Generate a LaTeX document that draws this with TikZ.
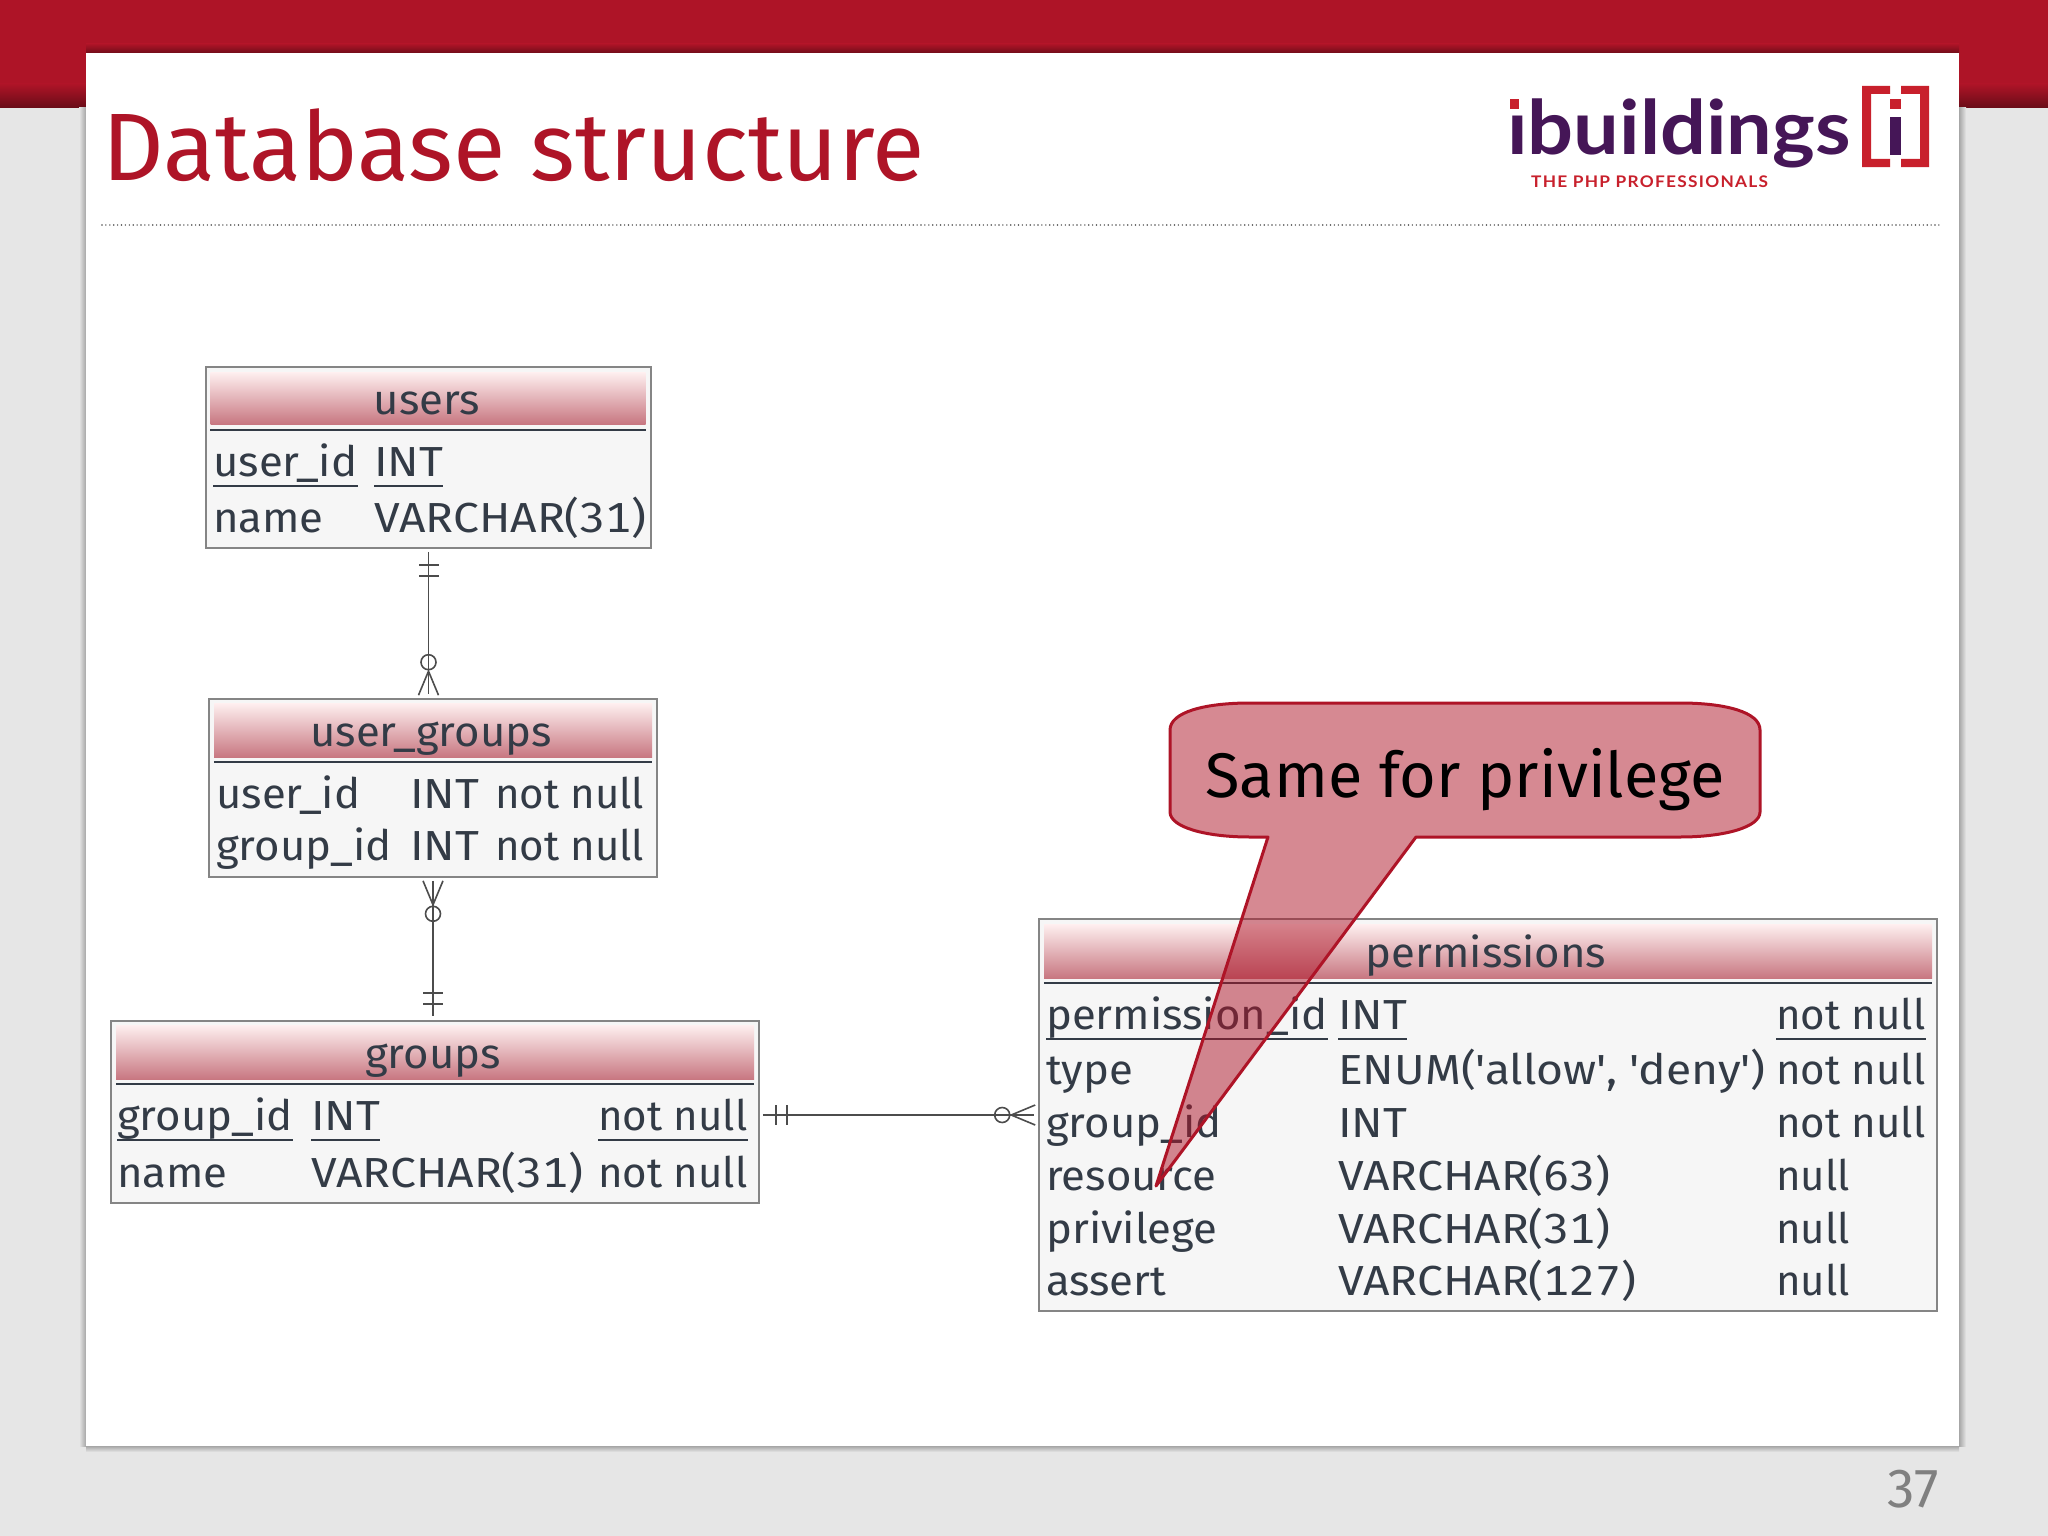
\documentclass[tikz,border=0pt]{standalone}
\usepackage{fontspec}
\setmainfont{Fira Sans}
\newfontfamily\logofont{Lato}[FakeStretch=1.08]
\newfontfamily\cellfont{Fira Sans}[FakeStretch=1.04]
\newfontfamily\typefont{Fira Sans}[FakeStretch=1.1,Numbers={Lining,Monospaced}]
\usetikzlibrary{positioning}
\definecolor{slidered}{HTML}{AE1427}
\definecolor{slidegrey}{HTML}{E6E6E6}
\definecolor{logopurple}{HTML}{451657}
\definecolor{logored}{HTML}{C8202C}
\definecolor{tabletext}{HTML}{333B46}
\definecolor{tableborder}{HTML}{858585}
\tikzset{
  tablebox/.style={draw=tableborder,line width=1.6pt,fill=black!3.5,inner sep=0pt},
  headbar/.style={top color=black!3!red!6!white,bottom color=slidered!55!white!95!black,draw=none,inner sep=0pt},
  headrule/.style={draw=tabletext,line width=1.6pt},
  cell/.style={anchor=base west,inner sep=0pt,text=tabletext,font=\cellfont\fontsize{42}{42}\selectfont},
  typecell/.style={cell,font=\typefont\fontsize{42}{42}\selectfont},
  nullcell/.style={cell,font=\fontsize{42}{42}\selectfont},
  keyline/.style={append after command={
    ([yshift=-10pt]\tikzlastnode.base west) edge[draw=tabletext,line width=1.4pt] ([yshift=-10pt]\tikzlastnode.base east)}},
  headtext/.style={anchor=base,inner sep=0pt,text=tabletext,font=\cellfont\fontsize{42}{42}\selectfont},
  relation/.style={draw=black!70,line width=1.6pt},
  onemark/.pic={
    \draw[relation] (16,-10) -- (16,10);
    \draw[relation] (27,-10) -- (27,10);
  },
  manymark/.pic={
    \draw[relation] (3,-10) -- (27,0) -- (3,10);
    \draw[relation] (36,0) circle (7.5pt);
  },
}
\begin{document}
\begin{tikzpicture}[x=1pt,y=-1pt]
  \useasboundingbox (0,0) rectangle (2048,1536);
  \fill[slidegrey] (0,0) rectangle (2048,1536);
  \fill[slidered] (0,0) rectangle (2048,84);
  \shade[top color=slidered,bottom color=slidered!60!black] (0,84) rectangle (2048,108);
  \shade[left color=black!35,right color=slidegrey] (1959,108) rectangle (1966,1446);
  \shade[right color=black!35,left color=slidegrey] (79,108) rectangle (86,1446);
  \shade[top color=black!35,bottom color=slidegrey] (86,1446) rectangle (1959,1452);
  \shade[top color=slidered,bottom color=slidered!65!black] (86,44) rectangle (1959,53);
  \fill[white] (86,53) rectangle (1959,1446);

  \node[anchor=base west,inner sep=0pt,text=slidered,font=\fontsize{95.8}{96}\selectfont] (title) at (102,180) {Database structure};
  \draw[black!70,line width=1.6pt,line cap=round,dash pattern=on 0pt off 3.9pt] (102,225) -- (1940,225);

  \node[anchor=base west,inner sep=0pt,text=logopurple,font=\logofont\bfseries\fontsize{75}{75}\selectfont] (logotext) at (1507,155) {ibuildings};
  \fill[white] (1506,92) rectangle (1524,113);
  \fill[logored] (1510,99) rectangle (1519,109);
  \node[anchor=base west,inner sep=0pt,text=logored,font=\logofont\bfseries\fontsize{16}{16}\selectfont] (logosub) at (1531,187) {\addfontfeature{LetterSpace=8}THE PHP PROFESSIONALS};
  \fill[logored] (1890,86) -- (1862,86) -- (1862,167) -- (1890,167) -- (1890,159) -- (1871,159) -- (1871,94) -- (1890,94) -- cycle;
  \fill[logored] (1901,86) -- (1929,86) -- (1929,167) -- (1901,167) -- (1901,159) -- (1920,159) -- (1920,94) -- (1901,94) -- cycle;
  \fill[logored] (1890,99) rectangle (1901,109);
  \fill[logopurple] (1890,117) rectangle (1901,155);

  \node[tablebox,minimum width=445pt,minimum height=181pt] (users) at (428.5,457.5) {};
  \node[headbar,minimum width=435pt,minimum height=52pt] (usershead) at (428,398) {};
  \draw[headrule] ([yshift=-6pt]usershead.south west) -- ([yshift=-6pt]usershead.south east);
  \node[headtext] (userstitle) at (427,414) {users};
  \node[cell,keyline] (usersid) at (213,476) {user\_id};
  \node[typecell,keyline] (usersidtype) at (374,476) {INT};
  \node[cell] (usersname) at (213,532) {name};
  \node[typecell] (usersnametype) at (374,532) {VARCHAR(31)};

  \node[tablebox,minimum width=448pt,minimum height=178pt] (ug) at (433,788) {};
  \node[headbar,minimum width=438pt,minimum height=54pt] (ughead) at (433,730) {};
  \draw[headrule] ([yshift=-5pt]ughead.south west) -- ([yshift=-5pt]ughead.south east);
  \node[headtext] (ugtitle) at (431,746) {user\_groups};
  \node[cell] (uguser) at (216,808) {user\_id};
  \node[typecell] (ugusertype) at (410,808) {INT};
  \node[nullcell] (ugusernull) at (495,808) {not null};
  \node[cell] (uggroup) at (216,860) {group\_id};
  \node[typecell] (uggrouptype) at (410,860) {INT};
  \node[nullcell] (uggroupnull) at (495,860) {not null};

  \node[tablebox,minimum width=648pt,minimum height=182pt] (groups) at (435,1112) {};
  \node[headbar,minimum width=638pt,minimum height=54pt] (groupshead) at (435,1052) {};
  \draw[headrule] ([yshift=-5pt]groupshead.south west) -- ([yshift=-5pt]groupshead.south east);
  \node[headtext] (groupstitle) at (433,1068) {groups};
  \node[cell,keyline] (groupsid) at (117,1130) {group\_id};
  \node[typecell,keyline] (groupsidtype) at (311,1130) {INT};
  \node[nullcell,keyline] (groupsidnull) at (598,1130) {not null};
  \node[cell] (groupsname) at (117,1187) {name};
  \node[typecell] (groupsnametype) at (311,1187) {VARCHAR(31)};
  \node[nullcell] (groupsnamenull) at (598,1187) {not null};

  \node[tablebox,minimum width=898pt,minimum height=392pt] (perm) at (1488,1115) {};
  \node[headbar,minimum width=888pt,minimum height=54pt] (permhead) at (1488,951) {};
  \draw[headrule] ([yshift=-5pt]permhead.south west) -- ([yshift=-5pt]permhead.south east);
  \node[headtext] (permtitle) at (1486,967) {permissions};
  \node[cell,keyline] (permid) at (1046,1029) {permission\_id};
  \node[typecell,keyline] (permidtype) at (1338,1029) {INT};
  \node[nullcell,keyline] (permidnull) at (1776,1029) {not null};
  \node[cell] (permtype) at (1046,1084) {type};
  \node[typecell] (permtypetype) at (1338,1084) {ENUM(\textquotesingle allow\textquotesingle, \textquotesingle deny\textquotesingle)};
  \node[nullcell] (permtypenull) at (1776,1084) {not null};
  \node[cell] (permgroup) at (1046,1137) {group\_id};
  \node[typecell] (permgrouptype) at (1338,1137) {INT};
  \node[nullcell] (permgroupnull) at (1776,1137) {not null};
  \node[cell] (permres) at (1046,1190) {resource};
  \node[typecell] (permrestype) at (1338,1190) {VARCHAR(63)};
  \node[nullcell] (permresnull) at (1776,1190) {null};
  \node[cell] (permpriv) at (1046,1243) {privilege};
  \node[typecell] (permprivtype) at (1338,1243) {VARCHAR(31)};
  \node[nullcell] (permprivnull) at (1776,1243) {null};
  \node[cell] (permassert) at (1046,1295) {assert};
  \node[typecell] (permasserttype) at (1338,1295) {VARCHAR(127)};
  \node[nullcell] (permassertnull) at (1776,1295) {null};

  \draw[relation,shorten <=3pt,shorten >=4pt] (users.south) -- (users.south |- ug.north);
  \path (users.south) pic[rotate=-90] {onemark};
  \path (users.south |- ug.north) pic[rotate=90] {manymark};
  \draw[relation,shorten <=3pt,shorten >=4pt] (ug.south) -- (ug.south |- groups.north);
  \path (ug.south) pic[rotate=-90] {manymark};
  \path (ug.south |- groups.north) pic[rotate=90] {onemark};
  \draw[relation,shorten <=3pt,shorten >=4pt] (perm.west -| groups.east) -- (perm.west);
  \path (perm.west -| groups.east) pic {onemark};
  \path (perm.west) pic[rotate=180] {manymark};

  \draw[slidered,line width=3pt,line join=round,fill=slidered,fill opacity=.5]
    (1170,730) .. controls (1170,712) and (1205,703) .. (1250,703) -- (1680,703)
    .. controls (1725,703) and (1760,712) .. (1760,730) -- (1760,812)
    .. controls (1760,827) and (1725,837) .. (1680,837) -- (1416,837) -- (1156,1186) -- (1268,837) -- (1250,837)
    .. controls (1205,837) and (1170,827) .. (1170,812) -- cycle;
  \node[anchor=base,inner sep=0pt,font=\fontsize{63}{63}\selectfont] (calloutlabel) at (1465,797) {Same for privilege};

  \node[anchor=base east,inner sep=0pt,text=black!50,font=\fontsize{55}{55}\selectfont] (pagenum) at (1939,1507) {37};
\end{tikzpicture}
\end{document}
